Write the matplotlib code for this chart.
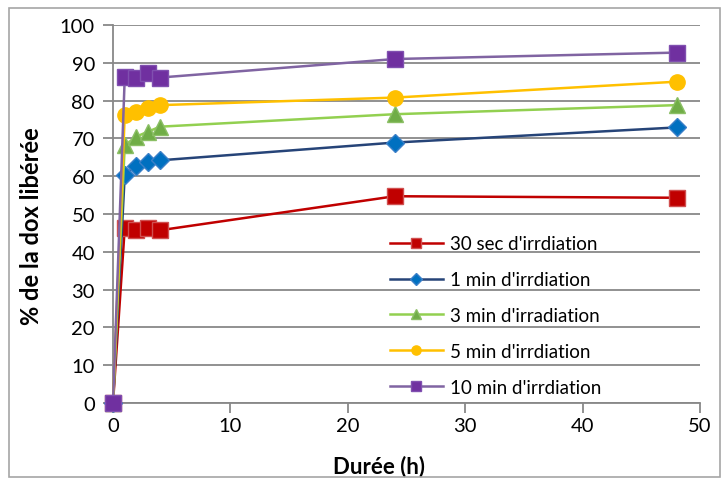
import matplotlib
matplotlib.use("Agg")
import matplotlib.pyplot as plt
from matplotlib.lines import Line2D
from matplotlib.patches import Rectangle

plt.rcParams['font.family'] = ['Lato', 'DejaVu Sans']

hours = [0, 1, 2, 3, 4, 24, 48]
sec30 = [0, 46.3, 45.7, 46.2, 45.7, 54.7, 54.3]
min1 = [0, 60.4, 62.8, 63.8, 64.2, 68.9, 72.9]
min3 = [0, 68.2, 70.5, 71.8, 73.1, 76.4, 78.8]
min5 = [0, 76.1, 77.1, 78.1, 78.8, 80.8, 85.0]
min10 = [0, 86.2, 86.1, 87.4, 86.1, 91.0, 92.7]

labels = ["30 sec d'irrdiation", "1 min d'irrdiation", "3 min d'irradiation",
          "5 min d'irrdiation", "10 min d'irrdiation"]
series = [sec30, min1, min3, min5, min10]
styles = [
    dict(color='#C00000', marker='s', mfc='#C00000', mec='#D05050', ms=11.5),
    dict(color='#264478', marker='D', mfc='#0070C0', mec='#3A7FC8', ms=9.5),
    dict(color='#92D050', marker='^', mfc='#70AD47', mec='#8BBF65', ms=12),
    dict(color='#FFC000', marker='o', mfc='#FFC000', mec='#FFC000', ms=11),
    dict(color='#8064A2', marker='s', mfc='#7030A0', mec='#8050B0', ms=11.5),
]

fig = plt.figure(figsize=(7.23, 4.81), dpi=100)
fig.patches.append(Rectangle((9/723, 1-478/481), (720-9)/723, (478-9)/481,
                             transform=fig.transFigure, fill=False,
                             edgecolor='#A6A6A6', lw=1.2))
ax = fig.add_axes([113/723, 1-404/481, (700-113)/723, (404-26)/481])

for vals, st in zip(series, styles):
    ax.plot(hours, vals, lw=1.8, marker=st['marker'], color=st['color'],
            markerfacecolor=st['mfc'], markeredgecolor=st['mec'],
            markersize=st['ms'], markeredgewidth=1, clip_on=False, zorder=3)

ax.set_xlim(0, 50)
ax.set_ylim(0, 100)
ax.set_xticks(range(0, 51, 10))
ax.set_yticks(range(0, 101, 10))
ax.grid(axis='y', color='#888888', lw=1.3)
ax.set_axisbelow(True)
for s in ['top', 'right']:
    ax.spines[s].set_visible(False)
for s in ['left', 'bottom']:
    ax.spines[s].set_color('#888888')
    ax.spines[s].set_linewidth(1.3)
ax.tick_params(axis='both', direction='out', length=7, width=1.3, color='#888888',
               labelsize=14.5, labelcolor='black')
ax.tick_params(axis='x', pad=3)
ax.tick_params(axis='y', pad=6)
ax.set_xlabel('Durée (h)', fontsize=16, fontweight='bold')
ax.set_ylabel('% de la dox libérée', fontsize=17, fontweight='bold')
ax.xaxis.set_label_coords(0.453, -0.137)
ax.yaxis.set_label_coords(-0.119, 0.471)

handles = []
for st in styles:
    handles.append(Line2D([], [], lw=1.8, color=st['color'], marker=st['marker'],
                          markerfacecolor=st['mfc'], markeredgecolor=st['mec'],
                          markersize=st['ms'] * 0.6))
leg = fig.legend(handles, labels, loc='upper left', bbox_to_anchor=(382/723, 1-229/481),
                 frameon=False, fontsize=13.5, handlelength=2.85, handletextpad=0.35,
                 labelspacing=1.0, borderaxespad=0)

fig.savefig('out.png', dpi=100)
